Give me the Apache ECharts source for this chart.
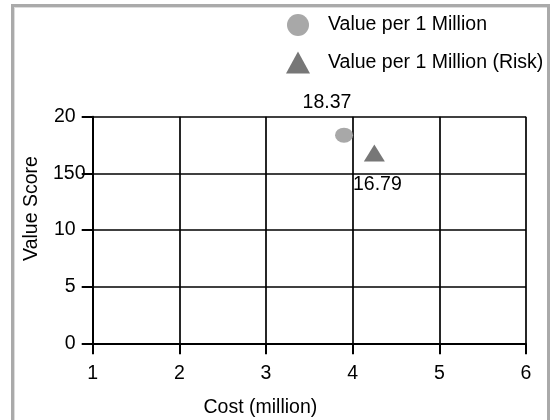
<!DOCTYPE html>
<html>
<head>
<meta charset="utf-8">
<script src="https://cdn.jsdelivr.net/npm/echarts@6/dist/echarts.min.js"></script>
<style>
html,body{margin:0;padding:0;background:#fff;}
#wrap{position:relative;width:551px;height:420px;overflow:hidden;}
#frame{position:absolute;left:11px;top:4px;width:533px;height:440px;border:3px solid #aaa;box-shadow:inset 1px 1px 0 #ddd;pointer-events:none;}
#chart{position:absolute;left:0;top:0;width:551px;height:420px;}
</style>
</head>
<body>
<div id="wrap"><div id="frame"></div><div id="chart"></div></div>
<script>
const seriesNames = ["Value per 1 Million", "Value per 1 Million (Risk)"];
const costValues = [3.9, 4.25];
const valueScores = [18.37, 16.79];
const xTicks = [1, 2, 3, 4, 5, 6];
const yTicks = [0, 5, 10, 15, 20];
const yTickLabels = ["0", "5", "10", "150", "20"];

const font = "Liberation Sans, Arial, sans-serif";
const fs = 19.5;

const chart = echarts.init(document.getElementById('chart'), null, {renderer: 'canvas'});
chart.setOption({
  backgroundColor: 'transparent',
  animation: false,
  textStyle: {fontFamily: font, color: '#000'},
  legend: {
    orient: 'vertical',
    left: 281, top: 9,
    itemWidth: 24, itemHeight: 22, itemGap: 15.5,
    textStyle: {fontFamily: font, fontSize: fs, color: '#000', padding: [0, 0, 0, 13]},
    data: [
      {name: seriesNames[0], icon: 'circle'},
      {name: seriesNames[1], icon: 'triangle'}
    ]
  },
  grid: {left: 92.7, right: 25, top: 116.7, bottom: 76.7, containLabel: false, outerBoundsMode: 'none'},
  xAxis: {
    type: 'value', min: xTicks[0], max: xTicks[xTicks.length - 1], interval: 1,
    name: 'Cost (million)', nameLocation: 'middle', nameGap: 54,
    nameTextStyle: {fontFamily: font, fontSize: fs, color: '#000', padding: [0, 98, 0, 0]},
    axisLine: {show: true, onZero: false, lineStyle: {color: '#000', width: 2}},
    axisTick: {show: true, length: 11, lineStyle: {color: '#000', width: 2}},
    axisLabel: {margin: 20, fontFamily: font, fontSize: fs, color: '#000'},
    splitLine: {show: true, lineStyle: {color: '#000', width: 1.7}}
  },
  yAxis: {
    type: 'value', min: yTicks[0], max: yTicks[yTicks.length - 1], interval: 5,
    name: 'Value Score', nameLocation: 'middle', nameGap: 44,
    nameTextStyle: {fontFamily: font, fontSize: fs, color: '#000', padding: [0, 0, 0, 43]},
    axisLine: {show: true, onZero: false, lineStyle: {color: '#000', width: 2}},
    axisTick: {show: true, length: 11, lineStyle: {color: '#000', width: 2}},
    axisLabel: {
      margin: 17, fontFamily: font, fontSize: fs, color: '#000',
      formatter: function (v) {
        const i = yTicks.indexOf(v);
        const t = i >= 0 ? yTickLabels[i] : String(v);
        const base = String(v);
        if (t.length > base.length) {
          return '{n|' + base + '}{z|' + t.slice(base.length) + '}';
        }
        return t;
      },
      rich: {
        n: {align: 'left', fontFamily: font, fontSize: fs, color: '#000'},
        z: {width: 1, align: 'left', fontFamily: font, fontSize: fs, color: '#000'}
      }
    },
    splitLine: {show: true, lineStyle: {color: '#000', width: 1.7}}
  },
  series: [
    {
      name: seriesNames[0], type: 'scatter', symbol: 'circle', symbolSize: [18, 15],
      itemStyle: {color: '#a8a8a8', opacity: 1},
      label: {show: true, position: 'inside', offset: [-17, -33], fontFamily: font, fontSize: fs, color: '#000',
        formatter: p => p.value[1].toFixed(2)},
      data: [[costValues[0], valueScores[0]]]
    },
    {
      name: seriesNames[1], type: 'scatter', symbol: 'triangle', symbolSize: [21, 17],
      itemStyle: {color: '#777777', opacity: 1},
      label: {show: true, position: 'inside', offset: [3, 32], fontFamily: font, fontSize: fs, color: '#000',
        formatter: p => p.value[1].toFixed(2)},
      data: [[costValues[1], valueScores[1]]]
    }
  ]
});
</script>
</body>
</html>
